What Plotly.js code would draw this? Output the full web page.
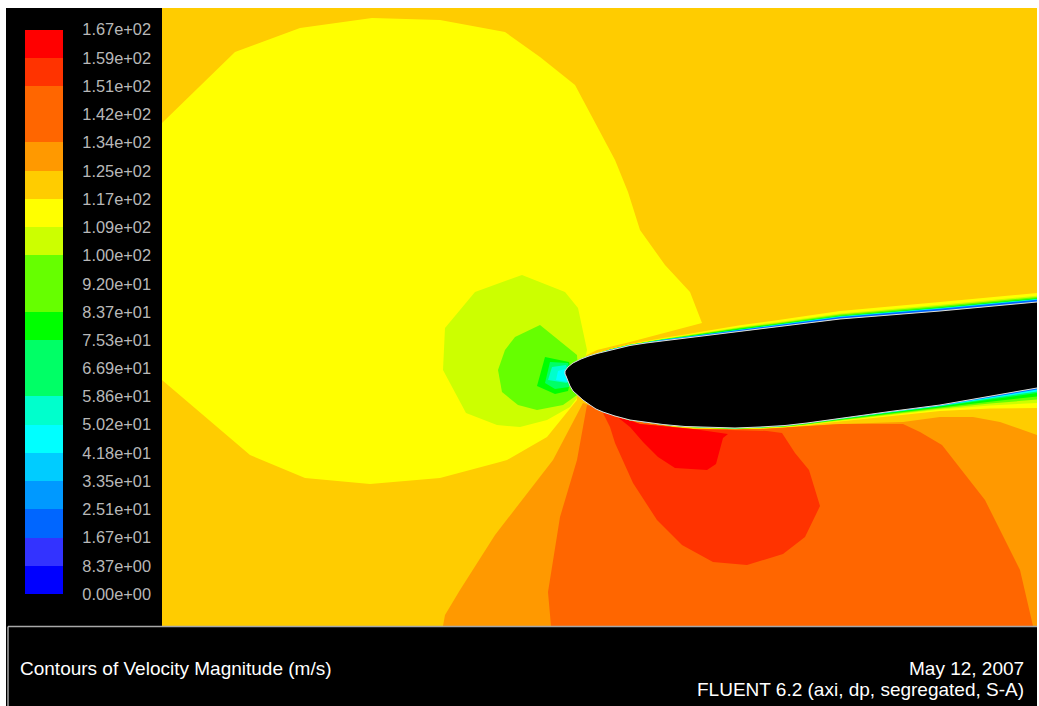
<!DOCTYPE html>
<html><head><meta charset="utf-8">
<script src="https://cdn.plot.ly/plotly-3.0.1.min.js"></script>
<style>html,body{margin:0;padding:0;background:#fff;overflow:hidden}</style>
</head><body><div id="chart" style="width:1039px;height:706px"></div>
<script>
// Colour-bar levels and labels
var levelValues = [167.4,159.0,150.7,142.3,133.9,125.5,117.2,108.8,100.4,92.0,83.7,75.3,66.9,58.6,50.2,41.8,33.5,25.1,16.7,8.37,0];
var levelLabels = ["1.67e+02","1.59e+02","1.51e+02","1.42e+02","1.34e+02","1.25e+02","1.17e+02","1.09e+02","1.00e+02","9.20e+01","8.37e+01","7.53e+01","6.69e+01","5.86e+01","5.02e+01","4.18e+01","3.35e+01","2.51e+01","1.67e+01","8.37e+00","0.00e+00"];
var bandColors = ["#ff0000","#ff3300","#ff6600","#ff6600","#ff9900","#ffcc00","#ffff00","#ccff00","#66ff00","#66ff00","#00ff00","#00ff66","#00ff66","#00ffcc","#00ffff","#00ccff","#0099ff","#0066ff","#3333ff","#0000ff"];

// Contour regions (field coordinates)
var fieldX = [162,1037,1037,162];
var fieldY = [8,8,626,626];
var yellowX = [162,235,300,372,440,505,540,575,615,628,640,665,690,702,630,597,587,577,577,547,507,500,440,370,305,250,162];
var yellowY = [123,52,28,18,20,32,57,85,160,192,230,265,292,323,342,350,355,362,400,437,460,462,478,484,478,455,380];
var orange1X = [583,553,495,460,445,443,1037,1037,1000,973,940,903,840,760,680,600];
var orange1Y = [403,460,535,590,615,626,626,435,422,417,417,422,424,429,429,408];
var orange2X = [587,577,560,548,551,1033,1020,985,942,920,903,840,760,680,600];
var orange2Y = [405,460,517,592,626,626,570,500,445,432,424,424,429,429,408];
var red2X = [602,610,615,623,633,657,682,713,747,783,805,820,809,795,782,767,693,640];
var red2Y = [411,427,443,460,483,520,545,562,565,554,537,506,470,453,433,431,429,424];
var redX = [615,630,643,658,675,707,716,723,728,693,640];
var redY = [415,427,442,457,468,470,464,438,434,429,424];
var limeX = [522,565,578,587,577,570,547,520,497,466,443,445,475];
var limeY = [275,292,308,350,398,407,420,427,425,413,370,328,292];
var greenX = [540,577,578,577,563,537,518,502,498,505,515];
var greenY = [325,355,372,395,405,410,405,392,370,350,337];
var pureGreenX = [545,569,572,568,555,537];
var pureGreenY = [357,362,375,391,394,386];
var mintX = [550,568,571,569,555,545];
var mintY = [362,363,375,387,389,383];
var aquaX = [552,566,570,567,548];
var aquaY = [367,365,375,383,380];
var cyanX = [558,565,570,568,556];
var cyanY = [371,369,375,382,380];

// Aerofoil surface, tail (upper) round the nose to tail (lower)
var upperX = [1037,940,840,775,740,710,685,663,646,630,612,597,589,581,573,568,565];
var upperY = [302,311,319,327,331,335,338,340.5,343,345.5,349.5,353.5,356,359,363,367,371];
var lowerX = [565,566,567,570,573,577,583,590,596,603,615,630,646,663,685,710,735,760,785,807,825,840,890,940,990,1037];
var lowerY = [374,376,379,386,391,395,400,405,409,412,416,420,422.5,424.5,426.5,427.5,428,427,425.5,423,420.5,418,411.5,405,396.5,388];
// Boundary-layer thickness above / below the surface at each station
var upperThickness = [9,9,8,6.5,5.8,5,3.5,2.5,2,1.5,1,0.7,0.5,0.4,0.3,0.2,0];
var lowerThickness = [0,0,0,0,0,0,0,0,0,0,0.2,0.3,0.4,0.5,0.7,1,1.2,1.5,1.8,2.2,2.6,3,4.5,6,12,20];
// Boundary-layer colours from outer edge to wall, with share of the thickness
var layerColors = ["#ffff00","#ccff00","#66ff00","#00ff00","#00ff66","#00ffff","#0066ff"];
var upperShares = [1,0.7,0.55,0.42,0.36,0.3,0.24];
var lowerShares = [1,0.75,0.58,0.42,0.25,0.17,0.08];

function poly(x, y, color) {
  return {type:'scatter', mode:'lines', x:x, y:y, fill:'toself', fillcolor:color,
          line:{width:0, color:color}, hoverinfo:'skip', showlegend:false, xaxis:'x', yaxis:'y'};
}
function layer(sx, sy, th, share, sign, color) {
  var x = sx.slice(), y = sy.slice();
  for (var i = sx.length - 1; i >= 0; i--) { x.push(sx[i]); y.push(sy[i] + sign * th[i] * share); }
  return poly(x, y, color);
}

var traces = [
  poly(fieldX, fieldY, "#ffcc00"),
  poly(yellowX, yellowY, "#ffff00"),
  poly(orange1X, orange1Y, "#ff9900"),
  poly(orange2X, orange2Y, "#ff6600"),
  poly(red2X, red2Y, "#ff3300"),
  poly(redX, redY, "#ff0000"),
  poly(limeX, limeY, "#ccff00"),
  poly(greenX, greenY, "#66ff00"),
  poly(pureGreenX, pureGreenY, "#00ff00"),
  poly(mintX, mintY, "#00ff66"),
  poly(aquaX, aquaY, "#00ffcc"),
  poly(cyanX, cyanY, "#00ffff")
];
layerColors.forEach(function (c, i) {
  traces.push(layer(upperX, upperY, upperThickness, upperShares[i], -1, c));
  traces.push(layer(lowerX, lowerY, lowerThickness, lowerShares[i], 1, c));
});
// Aerofoil body
traces.push({type:'scatter', mode:'lines', x:upperX.concat(lowerX), y:upperY.concat(lowerY),
  fill:'toself', fillcolor:'#000000', line:{color:'#dddddd', width:1},
  hoverinfo:'skip', showlegend:false, xaxis:'x', yaxis:'y'});

// Colour bar drawn as bars on its own value axis
traces.push({type:'bar', x:bandColors.map(function(){return 0;}),
  base:levelValues.slice(1),
  y:levelValues.slice(1).map(function(v,i){return levelValues[i]-v;}),
  marker:{color:bandColors, line:{width:0}}, width:1, hoverinfo:'skip', showlegend:false,
  xaxis:'x2', yaxis:'y2'});

var W = 1039, H = 706;
var layout = {
  width:W, height:H, margin:{l:0,r:0,t:0,b:0,pad:0},
  paper_bgcolor:'#ffffff', plot_bgcolor:'rgba(0,0,0,0)', showlegend:false,
  barmode:'overlay', bargap:0,
  font:{family:'"Liberation Sans", Arial, sans-serif', color:'#ffffff'},
  title:{text:'Contours of Velocity Magnitude (m/s)', x:20/W, xref:'paper', xanchor:'left',
         y:1-668/H, yref:'paper', yanchor:'middle', font:{size:19,color:'#ffffff'}},
  xaxis:{range:[0,W], domain:[0,1], visible:false, fixedrange:true},
  yaxis:{range:[H,0], domain:[0,1], visible:false, fixedrange:true},
  xaxis2:{range:[-0.5,0.5], domain:[25/W,63/W], visible:false, fixedrange:true, anchor:'y2'},
  yaxis2:{range:[-33.21,176.15], domain:[0,1], anchor:'x2', overlaying:'y', side:'right',
          tickmode:'array', tickvals:levelValues, ticktext:levelLabels,
          showgrid:false, zeroline:false, showline:false, ticks:'outside', ticklen:15,
          tickcolor:'rgba(0,0,0,0)', tickfont:{size:16.4,color:'#b8b8b8'}, fixedrange:true},
  shapes:[
    {type:'rect', layer:'below', xref:'paper', yref:'paper', x0:6/W, x1:1037/W, y0:0, y1:1-8/H,
     fillcolor:'#000000', line:{width:0}},
    {type:'rect', layer:'above', xref:'paper', yref:'paper', x0:8/W, x1:1037/W, y0:0, y1:1-626.5/H,
     fillcolor:'#000000', line:{width:0}},
    {type:'line', layer:'above', xref:'paper', yref:'paper', x0:8/W, x1:1037/W, y0:1-626.5/H, y1:1-626.5/H,
     line:{color:'#a8a8a8', width:1.6}},
    {type:'line', layer:'above', xref:'paper', yref:'paper', x0:8/W, x1:8/W, y0:0, y1:1-626.5/H,
     line:{color:'#d0d0d0', width:1.2}}
  ],
  annotations:[
    {text:'May 12, 2007', xref:'paper', yref:'paper', x:1026/W, y:1-668/H, xanchor:'right', yanchor:'middle',
     showarrow:false, font:{size:19,color:'#ffffff'}},
    {text:'FLUENT 6.2 (axi, dp, segregated, S-A)', xref:'paper', yref:'paper', x:1026/W, y:1-689/H, xanchor:'right', yanchor:'middle',
     showarrow:false, font:{size:19,color:'#ffffff'}}
  ]
};
Plotly.newPlot('chart', traces, layout, {displayModeBar:false, staticPlot:true});
</script></body></html>
